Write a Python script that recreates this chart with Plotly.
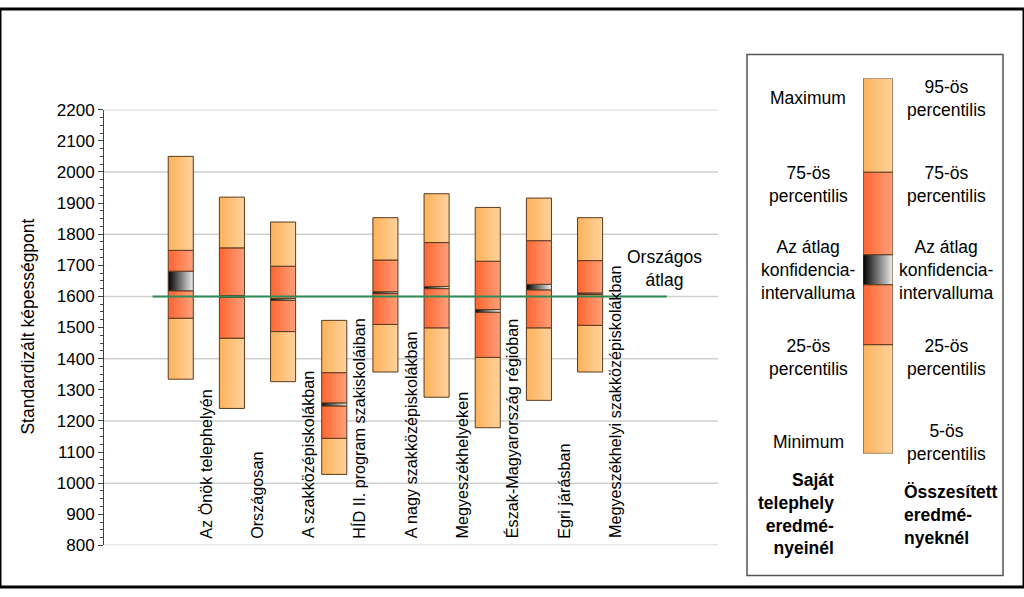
import plotly.graph_objects as go

W, H = 1024, 597

categories = [
    "Az Önök telephelyén",
    "Országosan",
    "A szakközépiskolákban",
    "HÍD II. program szakiskoláiban",
    "A nagy szakközépiskolákban",
    "Megyeszékhelyeken",
    "Észak-Magyarország régióban",
    "Egri járásban",
    "Megyeszékhelyi szakközépiskolákban",
]
p_low = [1334, 1240, 1326, 1028, 1357, 1276, 1178, 1266, 1357]
q25 = [1530, 1466, 1487, 1144, 1510, 1499, 1404, 1499, 1507]
ci_lo = [1618, 1597, 1587, 1248, 1609, 1625, 1549, 1621, 1606]
ci_hi = [1681, 1603, 1593, 1258, 1615, 1632, 1558, 1639, 1611]
q75 = [1748, 1756, 1697, 1355, 1717, 1773, 1713, 1779, 1715]
p_high = [2050, 1919, 1839, 1523, 1853, 1930, 1886, 1916, 1853]

national_avg = 1600
national_label = "Országos<br>átlag"

y_ticks = list(range(800, 2201, 100))
grid_values = list(range(800, 2201, 200))

# legend bar levels (schematic, 0-100)
legend_levels = [0, 29, 45, 53, 75, 100]

ORANGE = [[0, "#FDB25A"], [1, "#FFD29C"]]
RED = [[0, "#FF6530"], [1, "#FFA07A"]]
CI = [[0, "#000000"], [1, "#F0F0F0"]]
EDGE = "#5A3A1E"
FONT = "Liberation Sans, Arial, sans-serif"

fig = go.Figure()

half = 0.245


def seg(x0, x1, y0, y1, cs, xa="x", ya="y"):
    fig.add_trace(go.Scatter(
        x=[x0, x1, x1, x0, x0], y=[y0, y0, y1, y1, y0],
        mode="lines", fill="toself",
        fillgradient=dict(type="horizontal", colorscale=cs),
        line=dict(color=EDGE, width=1),
        xaxis=xa, yaxis=ya, showlegend=False, hoverinfo="skip"))


for i in range(len(categories)):
    x0, x1 = i - half, i + half
    seg(x0, x1, p_low[i], q25[i], ORANGE)
    seg(x0, x1, q25[i], ci_lo[i], RED)
    seg(x0, x1, ci_lo[i], ci_hi[i], CI)
    seg(x0, x1, ci_hi[i], q75[i], RED)
    seg(x0, x1, q75[i], p_high[i], ORANGE)

# national average line
fig.add_trace(go.Scatter(x=[-0.55, 9.5], y=[national_avg, national_avg], mode="lines",
                         line=dict(color="#2E8B57", width=2), showlegend=False,
                         hoverinfo="skip"))

# legend bar
lc = [ORANGE, RED, CI, RED, ORANGE]
for k in range(5):
    seg(0, 1, legend_levels[k], legend_levels[k + 1], lc[k], "x2", "y2")

px = lambda x: x / W
py = lambda y: 1 - y / H

fig.update_layout(
    autosize=True,
    margin=dict(l=0, r=0, t=0, b=0),
    paper_bgcolor="white", plot_bgcolor="white",
    font=dict(family=FONT, size=17, color="black"),
    xaxis=dict(domain=[px(104), px(718)], range=[-1.5, 10.5], showgrid=False,
               zeroline=False, showticklabels=False, showline=False, ticks=""),
    yaxis=dict(domain=[py(554), py(104)], range=[800, 2200], tickvals=y_ticks,
               showgrid=False, zeroline=False, showline=True, linecolor="#404040",
               linewidth=1, ticks="outside", ticklen=5, tickcolor="#404040",
               tickfont=dict(size=17, family=FONT),
               minor=dict(dtick=25, ticks="outside", ticklen=3, tickcolor="#404040")),
    xaxis2=dict(domain=[px(863), px(893)], range=[0, 1], visible=False, anchor="y2"),
    yaxis2=dict(domain=[py(459), py(71.7)], range=[0, 100], visible=False, anchor="x2"),
)

shapes = []
for g in grid_values:
    shapes.append(dict(type="line", xref="x domain", yref="y", x0=0, x1=1, y0=g, y1=g,
                       line=dict(color="#CFCFCF", width=1.5), layer="below"))
shapes.append(dict(type="rect", xref="paper", yref="paper", x0=px(747), x1=px(1003),
                   y0=py(585), y1=py(47), line=dict(color="#555555", width=1.5)))
shapes.append(dict(type="rect", xref="paper", yref="paper", x0=0, x1=1, y0=0, y1=1,
                   line=dict(color="black", width=3)))
fig.update_layout(shapes=shapes)

ann = []
for i, c in enumerate(categories):
    ann.append(dict(x=i + 0.49, y=800, xref="x", yref="y", text=c, textangle=-90,
                    showarrow=False, xanchor="center", yanchor="bottom", yshift=5,
                    font=dict(size=16.2)))
ann.append(dict(x=9.45, y=1690, xref="x", yref="y", text=national_label,
                showarrow=False, font=dict(size=17.5), align="center",
                xanchor="center", yanchor="middle"))
ann.append(dict(x=px(28), y=py(328), xref="paper", yref="paper",
                text="Standardizált képességpont", textangle=-90, showarrow=False,
                xanchor="center", yanchor="middle", font=dict(size=17.5)))

LF = 17.5
left_items = [("Maximum", 92), ("75-ös<br>percentilis", 181),
              ("Az átlag<br>konfidencia-<br>intervalluma", 270),
              ("25-ös<br>percentilis", 360), ("Minimum", 447)]
right_items = [("95-ös<br>percentilis", 92), ("75-ös<br>percentilis", 181),
               ("Az átlag<br>konfidencia-<br>intervalluma", 270),
               ("25-ös<br>percentilis", 360), ("5-ös<br>percentilis", 448)]
for t, y in left_items:
    ann.append(dict(x=px(808), y=py(y), xref="paper", yref="paper", text=t,
                    showarrow=False, align="center", xanchor="center",
                    yanchor="middle", font=dict(size=LF)))
for t, y in right_items:
    ann.append(dict(x=px(946), y=py(y), xref="paper", yref="paper", text=t,
                    showarrow=False, align="center", xanchor="center",
                    yanchor="middle", font=dict(size=LF)))
ann.append(dict(x=px(836), y=py(522), xref="paper", yref="paper",
                text="<b>Saját<br>telephely<br>eredmé-<br>nyeinél</b>", showarrow=False,
                align="right", xanchor="right", yanchor="middle", font=dict(size=LF)))
ann.append(dict(x=px(902), y=py(523), xref="paper", yref="paper",
                text="<b>Összesített<br>eredmé-<br>nyeknél</b>", showarrow=False,
                align="left", xanchor="left", yanchor="middle", font=dict(size=LF)))
fig.update_layout(annotations=ann)

post = (
    "document.documentElement.style.margin='0';"
    "document.documentElement.style.padding='0';"
    "document.documentElement.style.overflow='hidden';"
    "document.body.style.margin='0';"
    "document.body.style.padding='0';"
    "document.body.style.overflow='hidden';"
)

fig.write_html("out.html", default_width="100vw", default_height="100vh",
               config={"displayModeBar": False, "responsive": True},
               post_script=post)
